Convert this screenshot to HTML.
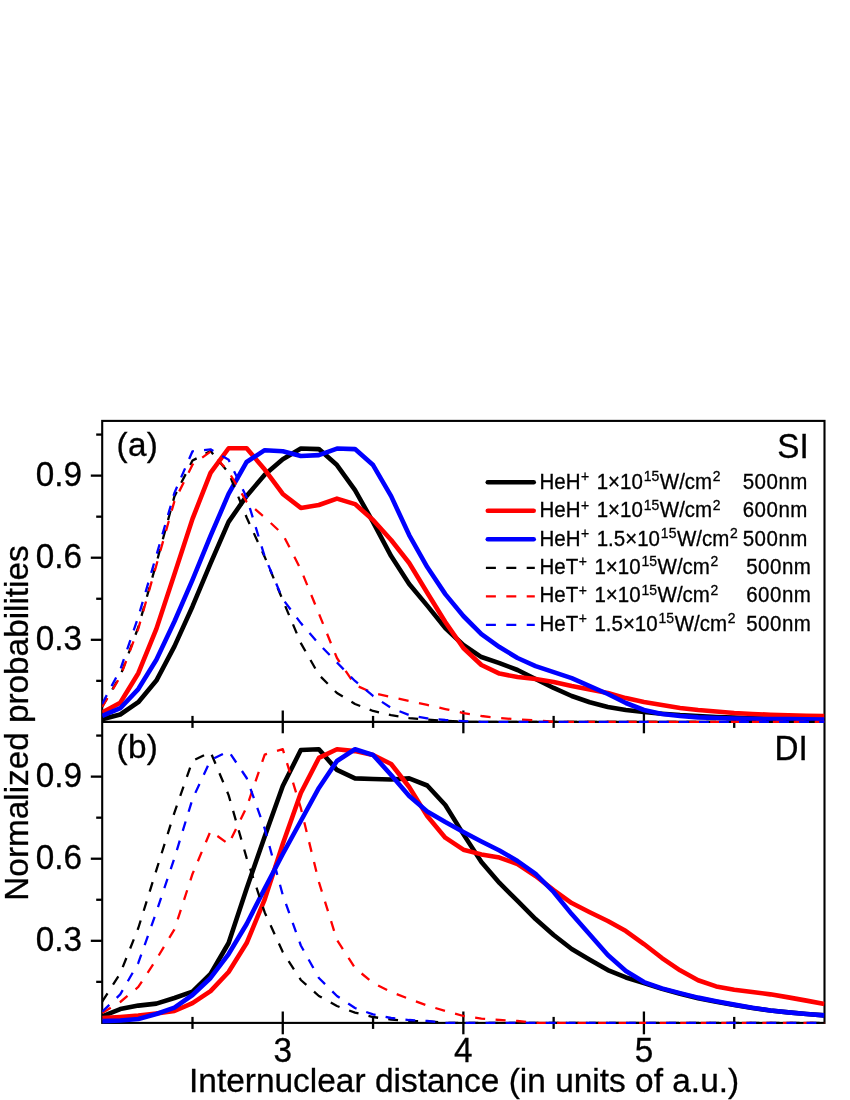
<!DOCTYPE html>
<html><head><meta charset="utf-8"><title>Normalized probabilities</title>
<style>
html,body{margin:0;padding:0;background:#ffffff;}
body{width:850px;height:1100px;overflow:hidden;font-family:"Liberation Sans",sans-serif;}
svg{display:block;will-change:transform;}
svg text{font-family:"Liberation Sans",sans-serif;fill:#000;stroke:#000;stroke-width:0.3px;}
</style></head><body>
<svg width="850" height="1100" viewBox="0 0 850 1100">
<rect x="0" y="0" width="850" height="1100" fill="#ffffff"/>
<defs>
<clipPath id="ca"><rect x="102.20" y="420.90" width="722.30" height="302.00"/></clipPath>
<clipPath id="cb"><rect x="102.20" y="721.90" width="722.30" height="302.00"/></clipPath>
</defs>
<!-- axes -->
<g stroke="#000" stroke-width="2.1" fill="none" stroke-linecap="butt">
<rect x="102.20" y="420.90" width="722.30" height="602.00"/>
<line x1="102.20" y1="721.90" x2="824.50" y2="721.90"/>
</g>
<g stroke="#000" stroke-width="2.3" fill="none">
<line x1="96.20" y1="680.85" x2="102.20" y2="680.85"/>
<line x1="90.80" y1="639.81" x2="102.20" y2="639.81"/>
<line x1="96.20" y1="598.76" x2="102.20" y2="598.76"/>
<line x1="90.80" y1="557.72" x2="102.20" y2="557.72"/>
<line x1="96.20" y1="516.67" x2="102.20" y2="516.67"/>
<line x1="90.80" y1="475.63" x2="102.20" y2="475.63"/>
<line x1="96.20" y1="434.58" x2="102.20" y2="434.58"/>
<line x1="96.20" y1="981.85" x2="102.20" y2="981.85"/>
<line x1="90.80" y1="940.81" x2="102.20" y2="940.81"/>
<line x1="96.20" y1="899.76" x2="102.20" y2="899.76"/>
<line x1="90.80" y1="858.72" x2="102.20" y2="858.72"/>
<line x1="96.20" y1="817.67" x2="102.20" y2="817.67"/>
<line x1="90.80" y1="776.63" x2="102.20" y2="776.63"/>
<line x1="96.20" y1="735.58" x2="102.20" y2="735.58"/>
<line x1="192.49" y1="715.90" x2="192.49" y2="727.90"/>
<line x1="282.77" y1="710.50" x2="282.77" y2="733.30"/>
<line x1="373.06" y1="715.90" x2="373.06" y2="727.90"/>
<line x1="463.35" y1="710.50" x2="463.35" y2="733.30"/>
<line x1="553.64" y1="715.90" x2="553.64" y2="727.90"/>
<line x1="643.92" y1="710.50" x2="643.92" y2="733.30"/>
<line x1="734.21" y1="715.90" x2="734.21" y2="727.90"/>
<line x1="192.49" y1="1016.90" x2="192.49" y2="1028.90"/>
<line x1="282.77" y1="1011.50" x2="282.77" y2="1034.30"/>
<line x1="373.06" y1="1016.90" x2="373.06" y2="1028.90"/>
<line x1="463.35" y1="1011.50" x2="463.35" y2="1034.30"/>
<line x1="553.64" y1="1016.90" x2="553.64" y2="1028.90"/>
<line x1="643.92" y1="1011.50" x2="643.92" y2="1034.30"/>
<line x1="734.21" y1="1016.90" x2="734.21" y2="1028.90"/>
</g>
<!-- panel a curves -->
<path d="M102.20,719.16 L120.26,714.51 L138.31,702.20 L156.37,680.58 L174.43,646.38 L192.49,606.43 L210.54,563.46 L228.60,521.87 L246.66,495.88 L264.72,474.81 L282.77,459.21 L300.83,448.54 L318.89,449.08 L336.95,465.06 L355.00,490.13 L373.06,522.15 L391.12,556.08 L409.18,583.99 L427.23,605.60 L445.29,628.04 L463.35,645.01 L481.41,657.05 L499.46,663.07 L517.52,670.02 L535.58,679.02 L553.64,687.97 L571.69,696.01 L589.75,702.20 L607.81,706.99 L625.87,710.00 L643.92,712.05 L661.98,713.69 L680.04,715.06 L698.10,715.99 L716.15,716.97 L734.21,717.60 L752.27,718.34 L770.33,718.75 L788.38,719.16 L806.44,719.44 L824.50,719.71" fill="none" stroke="#000000" stroke-width="4.6" stroke-linejoin="round" stroke-linecap="butt" clip-path="url(#ca)"/>
<path d="M102.20,712.60 L120.26,702.75 L138.31,673.19 L156.37,628.86 L174.43,574.14 L192.49,518.86 L210.54,472.89 L228.60,448.26 L246.66,448.26 L264.72,469.61 L282.77,493.96 L300.83,507.92 L318.89,505.04 L336.95,498.61 L355.00,504.09 L373.06,519.96 L391.12,540.04 L409.18,563.03 L427.23,592.74 L445.29,622.02 L463.35,648.02 L481.41,664.98 L499.46,673.60 L517.52,677.02 L535.58,679.02 L553.64,682.03 L571.69,686.05 L589.75,689.61 L607.81,693.00 L625.87,698.09 L643.92,702.01 L661.98,704.99 L680.04,708.00 L698.10,710.00 L716.15,711.58 L734.21,713.01 L752.27,713.96 L770.33,714.79 L788.38,715.41 L806.44,715.74 L824.50,715.99" fill="none" stroke="#ff0000" stroke-width="4.6" stroke-linejoin="round" stroke-linecap="butt" clip-path="url(#ca)"/>
<path d="M102.20,715.99 L120.26,708.22 L138.31,689.06 L156.37,659.78 L174.43,621.48 L192.49,579.88 L210.54,535.83 L228.60,493.96 L246.66,461.95 L264.72,450.18 L282.77,451.27 L300.83,456.06 L318.89,455.10 L336.95,448.54 L355.00,449.08 L373.06,465.06 L391.12,496.15 L409.18,535.01 L427.23,567.02 L445.29,594.11 L463.35,616.00 L481.41,634.06 L499.46,647.01 L517.52,658.01 L535.58,666.08 L553.64,672.10 L571.69,678.12 L589.75,686.05 L607.81,693.99 L625.87,703.02 L643.92,710.00 L661.98,713.96 L680.04,715.99 L698.10,717.38 L716.15,718.07 L734.21,718.62 L752.27,718.89 L770.33,719.03 L788.38,719.16 L806.44,719.30 L824.50,719.44" fill="none" stroke="#0000ff" stroke-width="4.6" stroke-linejoin="round" stroke-linecap="butt" clip-path="url(#ca)"/>
<path d="M102.20,706.58 L120.26,675.93 L138.31,627.22 L156.37,563.19 L174.43,496.42 L192.49,460.58 L210.54,451.00 L228.60,472.62 L246.66,517.49 L264.72,556.90 L282.77,600.13 L300.83,643.09 L318.89,674.83 L336.95,693.00 L355.00,704.00 L373.06,710.95 L391.12,715.06 L409.18,718.07 L427.23,719.60 L445.29,720.81 L463.35,721.79 L481.41,721.79 L499.46,721.79 L517.52,721.79 L535.58,721.79 L553.64,721.79 L571.69,721.79 L589.75,721.79 L607.81,721.79 L625.87,721.79 L643.92,721.79 L661.98,721.79 L680.04,721.79 L698.10,721.79 L716.15,721.79 L734.21,721.79 L752.27,721.79 L770.33,721.79 L788.38,721.79 L806.44,721.79 L824.50,721.79" fill="none" stroke="#000000" stroke-width="2.3" stroke-dasharray="9.74 10.13" stroke-linejoin="round" clip-path="url(#ca)"/>
<path d="M102.20,706.99 L120.26,676.75 L138.31,628.59 L156.37,565.11 L174.43,501.08 L192.49,464.68 L210.54,451.55 L228.60,471.69 L246.66,501.81 L264.72,517.41 L282.77,534.19 L300.83,569.48 L318.89,613.54 L336.95,658.01 L355.00,684.96 L373.06,693.00 L391.12,697.00 L409.18,700.99 L427.23,704.99 L445.29,709.04 L463.35,713.01 L481.41,715.99 L499.46,718.07 L517.52,719.44 L535.58,720.39 L553.64,721.79 L571.69,721.79 L589.75,721.79 L607.81,721.79 L625.87,721.79 L643.92,721.79 L661.98,721.79 L680.04,721.79 L698.10,721.79 L716.15,721.79 L734.21,721.79 L752.27,721.79 L770.33,721.79 L788.38,721.79 L806.44,721.79 L824.50,721.79" fill="none" stroke="#ff0000" stroke-width="2.3" stroke-dasharray="10.25 10.66" stroke-linejoin="round" clip-path="url(#ca)"/>
<path d="M102.20,703.84 L120.26,669.64 L138.31,616.82 L156.37,555.39 L174.43,492.87 L192.49,451.27 L210.54,449.36 L228.60,459.76 L246.66,497.52 L264.72,556.62 L282.77,599.04 L300.83,623.12 L318.89,643.91 L336.95,662.52 L355.00,680.99 L373.06,695.99 L391.12,707.94 L409.18,715.06 L427.23,718.34 L445.29,719.98 L463.35,721.08 L481.41,721.79 L499.46,721.79 L517.52,721.79 L535.58,721.79 L553.64,721.79 L571.69,721.79 L589.75,721.79 L607.81,721.79 L625.87,721.79 L643.92,721.79 L661.98,721.79 L680.04,721.79 L698.10,721.79 L716.15,721.79 L734.21,721.79 L752.27,721.79 L770.33,721.79 L788.38,721.79 L806.44,721.79 L824.50,721.79" fill="none" stroke="#0000ff" stroke-width="2.3" stroke-dasharray="9.82 10.22" stroke-linejoin="round" clip-path="url(#ca)"/>
<!-- panel b curves -->
<path d="M102.20,1016.33 L120.26,1009.10 L138.31,1005.60 L156.37,1003.64 L174.43,998.01 L192.49,991.62 L210.54,973.99 L228.60,943.03 L246.66,888.43 L264.72,836.56 L282.77,786.06 L300.83,750.02 L318.89,749.20 L336.95,769.95 L355.00,778.41 L373.06,778.96 L391.12,779.51 L409.18,778.41 L427.23,785.51 L445.29,805.00 L463.35,834.11 L481.41,861.95 L499.46,882.97 L517.52,900.99 L535.58,919.01 L553.64,935.00 L571.69,949.04 L589.75,959.68 L607.81,970.06 L625.87,977.43 L643.92,983.00 L661.98,988.89 L680.04,993.81 L698.10,998.18 L716.15,1001.72 L734.21,1005.00 L752.27,1008.00 L770.33,1010.46 L788.38,1012.37 L806.44,1014.01 L824.50,1015.37" fill="none" stroke="#000000" stroke-width="4.6" stroke-linejoin="round" stroke-linecap="butt" clip-path="url(#cb)"/>
<path d="M102.20,1018.00 L120.26,1017.01 L138.31,1015.65 L156.37,1013.46 L174.43,1011.01 L192.49,1003.09 L210.54,991.08 L228.60,971.97 L246.66,943.03 L264.72,899.35 L282.77,843.93 L300.83,792.99 L318.89,757.94 L336.95,749.20 L355.00,751.11 L373.06,754.94 L391.12,764.00 L409.18,787.01 L427.23,816.09 L445.29,837.65 L463.35,849.67 L481.41,854.39 L499.46,857.58 L517.52,864.00 L535.58,876.01 L553.64,890.07 L571.69,903.01 L589.75,912.18 L607.81,921.00 L625.87,931.02 L643.92,944.01 L661.98,958.05 L680.04,970.33 L698.10,980.29 L716.15,986.44 L734.21,989.79 L752.27,992.01 L770.33,994.35 L788.38,997.36 L806.44,1000.63 L824.50,1003.99" fill="none" stroke="#ff0000" stroke-width="4.6" stroke-linejoin="round" stroke-linecap="butt" clip-path="url(#cb)"/>
<path d="M102.20,1021.15 L120.26,1020.57 L138.31,1019.07 L156.37,1014.01 L174.43,1007.59 L192.49,995.01 L210.54,977.97 L228.60,954.01 L246.66,924.00 L264.72,888.43 L282.77,854.03 L300.83,821.00 L318.89,787.97 L336.95,761.00 L355.00,749.20 L373.06,754.94 L391.12,775.00 L409.18,795.99 L427.23,811.45 L445.29,822.09 L463.35,832.00 L481.41,841.48 L499.46,850.48 L517.52,861.00 L535.58,873.96 L553.64,891.98 L571.69,914.09 L589.75,934.57 L607.81,955.04 L625.87,971.01 L643.92,982.07 L661.98,988.35 L680.04,993.10 L698.10,997.63 L716.15,1001.18 L734.21,1004.62 L752.27,1007.73 L770.33,1010.46 L788.38,1012.37 L806.44,1014.01 L824.50,1015.37" fill="none" stroke="#0000ff" stroke-width="4.6" stroke-linejoin="round" stroke-linecap="butt" clip-path="url(#cb)"/>
<path d="M102.20,1001.56 L120.26,973.37 L138.31,928.02 L156.37,870.14 L174.43,812.54 L192.49,760.94 L210.54,751.93 L228.60,795.07 L246.66,858.13 L264.72,912.46 L282.77,952.04 L300.83,979.99 L318.89,995.99 L336.95,1006.01 L355.00,1012.64 L373.06,1017.01 L391.12,1019.61 L409.18,1020.83 L427.23,1021.38 L445.29,1022.79 L463.35,1022.79 L481.41,1022.79 L499.46,1022.79 L517.52,1022.79 L535.58,1022.79 L553.64,1022.79 L571.69,1022.79 L589.75,1022.79 L607.81,1022.79 L625.87,1022.79 L643.92,1022.79 L661.98,1022.79 L680.04,1022.79 L698.10,1022.79 L716.15,1022.79 L734.21,1022.79 L752.27,1022.79 L770.33,1022.79 L788.38,1022.79 L806.44,1022.79 L824.50,1022.79" fill="none" stroke="#000000" stroke-width="2.3" stroke-dasharray="9.84 10.24" stroke-linejoin="round" clip-path="url(#cb)"/>
<path d="M102.20,1013.00 L120.26,1002.00 L138.31,986.98 L156.37,959.41 L174.43,929.38 L192.49,873.96 L210.54,831.10 L228.60,844.01 L246.66,807.08 L264.72,754.66 L282.77,749.20 L300.83,808.01 L318.89,881.99 L336.95,940.03 L355.00,968.01 L373.06,983.00 L391.12,992.01 L409.18,998.99 L427.23,1005.55 L445.29,1011.01 L463.35,1016.00 L481.41,1018.65 L499.46,1020.02 L517.52,1021.00 L535.58,1022.79 L553.64,1022.79 L571.69,1022.79 L589.75,1022.79 L607.81,1022.79 L625.87,1022.79 L643.92,1022.79 L661.98,1022.79 L680.04,1022.79 L698.10,1022.79 L716.15,1022.79 L734.21,1022.79 L752.27,1022.79 L770.33,1022.79 L788.38,1022.79 L806.44,1022.79 L824.50,1022.79" fill="none" stroke="#ff0000" stroke-width="2.3" stroke-dasharray="10.06 10.47" stroke-linejoin="round" clip-path="url(#cb)"/>
<path d="M102.20,1011.68 L120.26,994.44 L138.31,962.96 L156.37,911.99 L174.43,858.13 L192.49,799.03 L210.54,760.12 L228.60,751.11 L246.66,778.00 L264.72,828.65 L282.77,894.98 L300.83,945.49 L318.89,977.97 L336.95,995.99 L355.00,1008.00 L373.06,1014.39 L391.12,1018.00 L409.18,1020.02 L427.23,1021.00 L445.29,1022.79 L463.35,1022.79 L481.41,1022.79 L499.46,1022.79 L517.52,1022.79 L535.58,1022.79 L553.64,1022.79 L571.69,1022.79 L589.75,1022.79 L607.81,1022.79 L625.87,1022.79 L643.92,1022.79 L661.98,1022.79 L680.04,1022.79 L698.10,1022.79 L716.15,1022.79 L734.21,1022.79 L752.27,1022.79 L770.33,1022.79 L788.38,1022.79 L806.44,1022.79 L824.50,1022.79" fill="none" stroke="#0000ff" stroke-width="2.3" stroke-dasharray="9.83 10.23" stroke-linejoin="round" clip-path="url(#cb)"/>
<!-- tick labels -->
<text transform="translate(82.0 650.21) scale(1 1.035)" text-anchor="end" font-size="33.3">0.3</text>
<text transform="translate(82.0 568.12) scale(1 1.035)" text-anchor="end" font-size="33.3">0.6</text>
<text transform="translate(82.0 486.03) scale(1 1.035)" text-anchor="end" font-size="33.3">0.9</text>
<text transform="translate(82.0 951.21) scale(1 1.035)" text-anchor="end" font-size="33.3">0.3</text>
<text transform="translate(82.0 869.12) scale(1 1.035)" text-anchor="end" font-size="33.3">0.6</text>
<text transform="translate(82.0 787.03) scale(1 1.035)" text-anchor="end" font-size="33.3">0.9</text>
<text transform="translate(282.77 1061.9) scale(1 1.035)" text-anchor="middle" font-size="33.3">3</text>
<text transform="translate(463.35 1061.9) scale(1 1.035)" text-anchor="middle" font-size="33.3">4</text>
<text transform="translate(643.92 1061.9) scale(1 1.035)" text-anchor="middle" font-size="33.3">5</text>
<!-- axis titles -->
<text transform="translate(464.1 1091.7) scale(1 1.012)" text-anchor="middle" font-size="33.45">Internuclear distance (in units of a.u.)</text>
<text transform="translate(28 723) rotate(-90) scale(1 1.012)" text-anchor="middle" font-size="33.3">Normalized probabilities</text>
<!-- panel tags -->
<text x="116.6" y="456.4" font-size="33.3" letter-spacing="0.25">(a)</text>
<text x="116.6" y="757.9" font-size="33.3" letter-spacing="0.25">(b)</text>
<text transform="translate(808.7 458.2) scale(1 1.035)" text-anchor="end" font-size="33.3">SI</text>
<text transform="translate(807.8 759.6) scale(1 1.035)" text-anchor="end" font-size="33.3">DI</text>
<!-- legend -->
<line x1="487.8" y1="482.30" x2="533.7" y2="482.30" stroke="#000000" stroke-width="4.6" stroke-linecap="round"/>
<text transform="translate(539.5 489.00) scale(1 1.035)" font-size="20.5">HeH<tspan dy="-7.4" dx="0.4" font-size="14.0">+</tspan><tspan dy="7.4" dx="1.9"> 1×10</tspan><tspan dy="-7.4" dx="0.9" font-size="14.0">15</tspan><tspan dy="7.4" dx="0.5">W/cm</tspan><tspan dy="-7.4" dx="0.6" font-size="14.0">2</tspan></text>
<text transform="translate(742.7 489.00) scale(1 1.035)" font-size="20.5" letter-spacing="0.5">500nm</text>
<line x1="487.8" y1="510.80" x2="533.7" y2="510.80" stroke="#ff0000" stroke-width="4.6" stroke-linecap="round"/>
<text transform="translate(539.5 517.30) scale(1 1.035)" font-size="20.5">HeH<tspan dy="-7.4" dx="0.4" font-size="14.0">+</tspan><tspan dy="7.4" dx="1.9"> 1×10</tspan><tspan dy="-7.4" dx="0.9" font-size="14.0">15</tspan><tspan dy="7.4" dx="0.5">W/cm</tspan><tspan dy="-7.4" dx="0.6" font-size="14.0">2</tspan></text>
<text transform="translate(742.7 517.30) scale(1 1.035)" font-size="20.5" letter-spacing="0.5">600nm</text>
<line x1="487.8" y1="539.30" x2="533.7" y2="539.30" stroke="#0000ff" stroke-width="4.6" stroke-linecap="round"/>
<text transform="translate(539.5 545.60) scale(1 1.035)" font-size="20.5">HeH<tspan dy="-7.4" dx="0.4" font-size="14.0">+</tspan><tspan dy="7.4" dx="1.9"> 1.5×10</tspan><tspan dy="-7.4" dx="0.9" font-size="14.0">15</tspan><tspan dy="7.4" dx="0.5">W/cm</tspan><tspan dy="-7.4" dx="0.6" font-size="14.0">2</tspan></text>
<text transform="translate(742.7 545.60) scale(1 1.035)" font-size="20.5" letter-spacing="0.5">500nm</text>
<line x1="485.9" y1="567.80" x2="534.8" y2="567.80" stroke="#000000" stroke-width="2.3" stroke-dasharray="10.0 10.4"/>
<text transform="translate(539.5 573.90) scale(1 1.035)" font-size="20.5">HeT<tspan dy="-7.4" dx="0.4" font-size="14.0">+</tspan><tspan dy="7.4" dx="1.9"> 1×10</tspan><tspan dy="-7.4" dx="0.9" font-size="14.0">15</tspan><tspan dy="7.4" dx="0.5">W/cm</tspan><tspan dy="-7.4" dx="0.6" font-size="14.0">2</tspan></text>
<text transform="translate(746.2 573.90) scale(1 1.035)" font-size="20.5" letter-spacing="0.5">500nm</text>
<line x1="485.9" y1="596.30" x2="534.8" y2="596.30" stroke="#ff0000" stroke-width="2.3" stroke-dasharray="10.0 10.4"/>
<text transform="translate(539.5 602.20) scale(1 1.035)" font-size="20.5">HeT<tspan dy="-7.4" dx="0.4" font-size="14.0">+</tspan><tspan dy="7.4" dx="1.9"> 1×10</tspan><tspan dy="-7.4" dx="0.9" font-size="14.0">15</tspan><tspan dy="7.4" dx="0.5">W/cm</tspan><tspan dy="-7.4" dx="0.6" font-size="14.0">2</tspan></text>
<text transform="translate(746.2 602.20) scale(1 1.035)" font-size="20.5" letter-spacing="0.5">600nm</text>
<line x1="485.9" y1="624.80" x2="534.8" y2="624.80" stroke="#0000ff" stroke-width="2.3" stroke-dasharray="10.0 10.4"/>
<text transform="translate(539.5 630.50) scale(1 1.035)" font-size="20.5">HeT<tspan dy="-7.4" dx="0.4" font-size="14.0">+</tspan><tspan dy="7.4" dx="1.9"> 1.5×10</tspan><tspan dy="-7.4" dx="0.9" font-size="14.0">15</tspan><tspan dy="7.4" dx="0.5">W/cm</tspan><tspan dy="-7.4" dx="0.6" font-size="14.0">2</tspan></text>
<text transform="translate(746.2 630.50) scale(1 1.035)" font-size="20.5" letter-spacing="0.5">500nm</text>
</svg>
</body></html>
